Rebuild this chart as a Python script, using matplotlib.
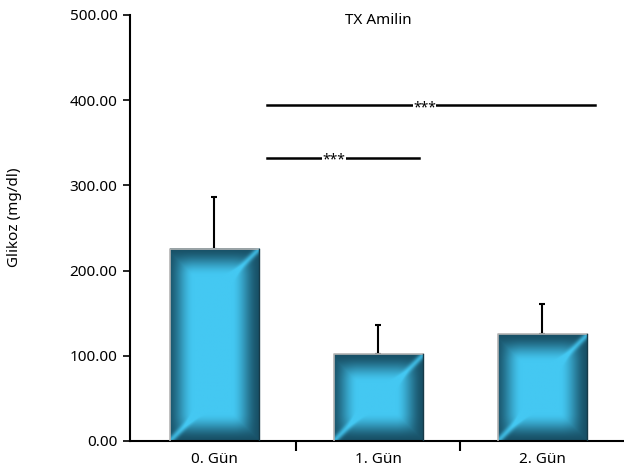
import numpy as np
import matplotlib.pyplot as plt

plt.rcParams['font.family'] = ['Noto Sans', 'DejaVu Sans']

# Data
categories = ['0. Gün', '1. Gün', '2. Gün']
means = [225.5, 102.0, 125.5]
errors = [60.5, 34.0, 35.0]
yticks = [0, 100, 200, 300, 400, 500]

# significance brackets: (x start, x end, y, star x)
sig_lines = [(0.32, 2.32, 394.0, 1.28), (0.32, 1.25, 332.0, 0.73)]

W, H = 624, 471
fig = plt.figure(figsize=(W / 100, H / 100), dpi=100)
ax = fig.add_axes([130 / W, 30 / H, 494 / W, 426 / H])

dark = np.array([24, 80, 102]) / 255
light = np.array([68, 200, 242]) / 255


def smooth(v):
    v = np.clip(v, 0, 1)
    return v * v * (3 - 2 * v)


def bar_gradient(wpx, hpx):
    x = np.arange(wpx) + 0.5
    y = np.arange(hpx) + 0.5
    X, Y = np.meshgrid(x, y)
    mx, my = 28.0, 28.0
    tx = smooth(np.minimum(X + 4, wpx - X) / mx)
    ty = smooth(np.minimum(Y, hpx - Y) / my)
    t = 0.5 * np.minimum(tx, ty) + 0.5 * tx * ty
    # diagonal glints in top-right and bottom-left corners
    s = 3.0
    r1 = np.hypot(wpx - X, Y)
    g1 = np.exp(-(((wpx - X) - Y) ** 2) / (2 * s ** 2)) * np.exp(-(r1 / 32) ** 2)
    r2 = np.hypot(X, hpx - Y)
    g2 = np.exp(-((X - (hpx - Y)) ** 2) / (2 * s ** 2)) * np.exp(-(r2 / 32) ** 2)
    t = np.clip(t + 0.8 * (g1 + g2), 0, 1)
    img = dark[None, None, :] + (light - dark)[None, None, :] * t[..., None]
    return img


bw = 0.543
px_per_x = 164.0
px_per_y = 426 / 500
for i, (m, e) in enumerate(zip(means, errors)):
    x0, x1 = i - bw / 2, i + bw / 2
    img = bar_gradient(int(bw * px_per_x), int(m * px_per_y))
    ax.imshow(img, extent=(x0, x1, 0, m), aspect='auto', zorder=2,
              interpolation='bilinear')
    ax.plot([x0, x0, x1], [0, m, m], color='#b4b4b4', lw=1.2, zorder=3)
    ax.plot([x1, x1], [0, m], color='#163a48', lw=1.0, zorder=3)
    ax.errorbar(i, m, yerr=[[0], [e]], color='black', lw=1.5,
                capsize=2.5, capthick=1.5, zorder=1)

for xa, xb, y, xs in sig_lines:
    ax.plot([xa, xb], [y, y], color='black', lw=1.8, zorder=2)
    ax.text(xs, y - 2.5, '***', ha='center', va='center', fontsize=10,
            zorder=3, bbox=dict(facecolor='white', edgecolor='none', pad=0.3))

ax.text(1.0, 494, 'TX Amilin', ha='center', va='center', fontsize=11)

ax.set_xlim(-0.515, 2.497)
ax.set_ylim(0, 500)
ax.set_yticks(yticks)
ax.set_yticklabels([f'{v:.2f}' for v in yticks], fontsize=11)
ax.set_xticks(range(len(categories)))
ax.set_xticklabels(categories, fontsize=11)
ax.tick_params(axis='x', which='major', length=0, pad=8)
ax.set_xticks([0.5, 1.5], minor=True)
ax.tick_params(axis='x', which='minor', length=7, width=1.5)
ax.tick_params(axis='y', length=5, width=1.2, pad=4)
for side in ['top', 'right']:
    ax.spines[side].set_visible(False)
for side in ['left', 'bottom']:
    ax.spines[side].set_linewidth(1.5)
ax.set_ylabel('Glikoz (mg/dl)', fontsize=11, va='center')
ax.yaxis.set_label_coords(-0.233, 0.526)

fig.savefig('out.png', dpi=100)
